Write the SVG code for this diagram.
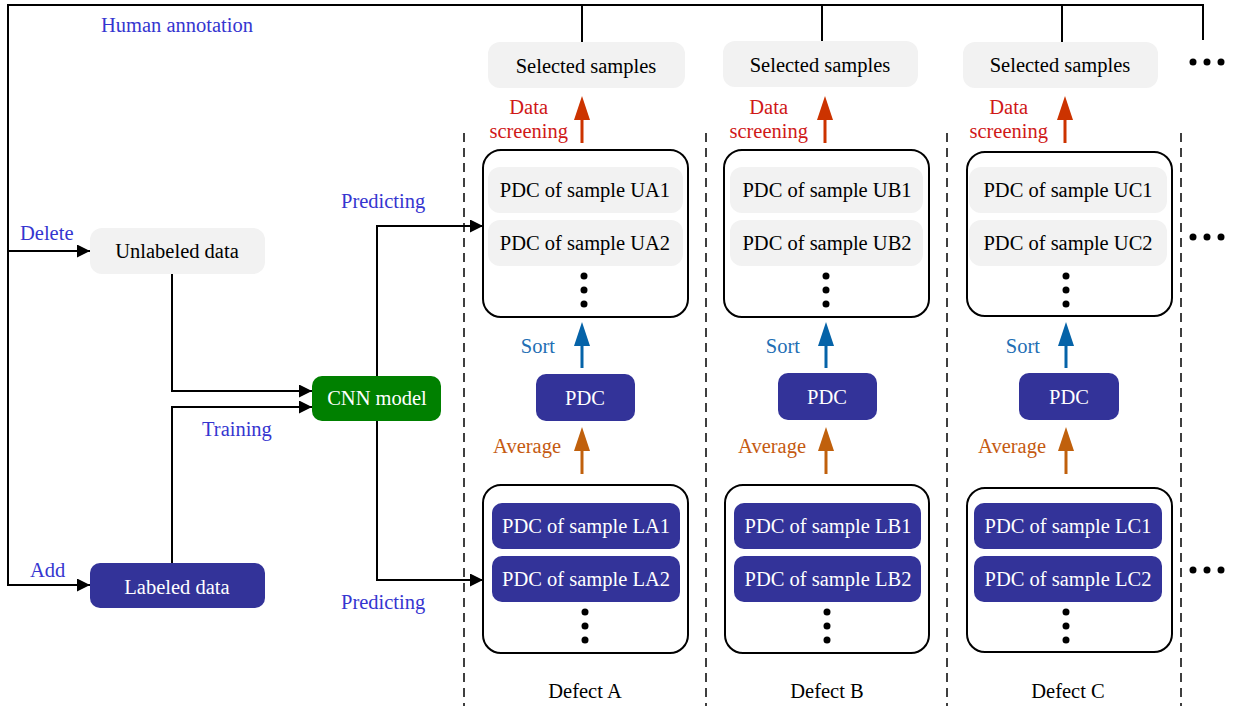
<svg xmlns="http://www.w3.org/2000/svg" width="1233" height="706" viewBox="0 0 1233 706">
<style>
text{font-family:"Liberation Serif","Times New Roman",serif;font-size:20.5px}
.c{text-anchor:middle}
.e{text-anchor:end}
.blk{fill:#000}
.wht{fill:#fff}
.lbl{fill:#3535d0}
.red{fill:#d01818}
.srt{fill:#1f6fb4}
.avg{fill:#c55a11}
.gray{fill:#f2f2f2}
.navy{fill:#333399}
.green{fill:#008000}
.cont{fill:#fff;stroke:#000;stroke-width:2}
.ln{fill:none;stroke:#000;stroke-width:2}
.arr{marker-end:url(#ah)}
.dash{stroke:#000;stroke-width:1.5;stroke-dasharray:9 6}
.ra{stroke:#cc3300;stroke-width:3;marker-end:url(#ahr)}
.ba{stroke:#0563a8;stroke-width:3;marker-end:url(#ahb)}
.oa{stroke:#c0600c;stroke-width:3;marker-end:url(#aho)}
</style>
<defs>
<marker id="ah" markerUnits="userSpaceOnUse" markerWidth="14" markerHeight="14" refX="13" refY="6.5" orient="auto"><path d="M0,0 L13,6.5 L0,13 z" fill="#000"/></marker>
<marker id="ahr" markerUnits="userSpaceOnUse" markerWidth="25" markerHeight="17" refX="14" refY="8" orient="auto"><path d="M0,0 L24,8 L0,16 z" fill="#cc3300"/></marker>
<marker id="ahb" markerUnits="userSpaceOnUse" markerWidth="25" markerHeight="17" refX="14" refY="8" orient="auto"><path d="M0,0 L24,8 L0,16 z" fill="#0563a8"/></marker>
<marker id="aho" markerUnits="userSpaceOnUse" markerWidth="25" markerHeight="17" refX="14" refY="8" orient="auto"><path d="M0,0 L24,8 L0,16 z" fill="#c0600c"/></marker>
</defs>
<rect width="1233" height="706" fill="#fff"/>

<g id="separators">
<line class="dash" x1="464" y1="133" x2="464" y2="706"/>
<line class="dash" x1="706" y1="133" x2="706" y2="706"/>
<line class="dash" x1="947" y1="133" x2="947" y2="706"/>
<line class="dash" x1="1181" y1="133" x2="1181" y2="706"/>
</g>

<g id="connectors">
<path class="ln" d="M582,42 V5 H8 V585 H90" marker-end="url(#ah)"/>
<path class="ln arr" d="M8,251 H90"/>
<path class="ln" d="M582,5 H1203 V40 M822,5 V42 M1062,5 V42"/>
<path class="ln arr" d="M172,274 V391 H312"/>
<path class="ln arr" d="M172,563 V407 H312"/>
<path class="ln arr" d="M377,376 V226 H483"/>
<path class="ln arr" d="M377,421 V580 H483"/>
<line class="ra" x1="582" y1="143" x2="582" y2="106"/>
<line class="ba" x1="582" y1="368" x2="582" y2="332"/>
<line class="oa" x1="582" y1="474" x2="582" y2="437"/>
<line class="ra" x1="825" y1="143" x2="825" y2="106"/>
<line class="ba" x1="826" y1="368" x2="826" y2="332"/>
<line class="oa" x1="826" y1="474" x2="826" y2="437"/>
<line class="ra" x1="1065" y1="143" x2="1065" y2="106"/>
<line class="ba" x1="1066" y1="368" x2="1066" y2="332"/>
<line class="oa" x1="1066" y1="474" x2="1066" y2="437"/>
</g>

<g id="edge-labels">
<text class="lbl" x="101" y="32">Human annotation</text>
<text class="lbl" x="20" y="240">Delete</text>
<text class="lbl" x="30" y="577">Add</text>
<text class="lbl" x="202" y="436">Training</text>
<text class="lbl" x="341" y="208">Predicting</text>
<text class="lbl" x="341" y="609">Predicting</text>
<text class="red e" x="548" y="114">Data</text>
<text class="red e" x="568" y="138">screening</text>
<text class="srt e" x="555" y="353">Sort</text>
<text class="avg e" x="561" y="453">Average</text>
<text class="red e" x="788" y="114">Data</text>
<text class="red e" x="808" y="138">screening</text>
<text class="srt e" x="800" y="353">Sort</text>
<text class="avg e" x="806" y="453">Average</text>
<text class="red e" x="1028" y="114">Data</text>
<text class="red e" x="1048" y="138">screening</text>
<text class="srt e" x="1040" y="353">Sort</text>
<text class="avg e" x="1046" y="453">Average</text>
</g>

<g id="unlabeled-data">
<rect class="gray" x="90" y="228" width="175" height="46" rx="12"/>
<text class="c blk" x="177" y="258">Unlabeled data</text>
</g>
<g id="labeled-data">
<rect class="navy" x="90" y="563" width="175" height="45" rx="10"/>
<text class="c wht" x="177" y="594">Labeled data</text>
</g>
<g id="cnn-model">
<rect class="green" x="312" y="376" width="129" height="45" rx="10"/>
<text class="c wht" x="377" y="405">CNN model</text>
</g>

<!-- Column A -->
<g id="selected-a">
<rect class="gray" x="488" y="42" width="197" height="46" rx="12"/>
<text class="c blk" x="586" y="73">Selected samples</text>
</g>
<g id="unlabeled-a">
<rect class="cont" x="483" y="150" width="205" height="167" rx="18"/>
<rect class="gray" x="488" y="167" width="195" height="46" rx="12"/>
<text class="c blk" x="585" y="197">PDC of sample UA1</text>
<rect class="gray" x="488" y="220" width="195" height="46" rx="12"/>
<text class="c blk" x="585" y="250">PDC of sample UA2</text>
<circle cx="584" cy="276" r="3.5"/><circle cx="584" cy="290" r="3.5"/><circle cx="584" cy="304" r="3.5"/>
</g>
<g id="pdc-a">
<rect class="navy" x="536" y="374" width="99" height="47" rx="10"/>
<text class="c wht" x="585" y="405">PDC</text>
</g>
<g id="labeled-a">
<rect class="cont" x="483" y="485" width="205" height="168" rx="18"/>
<rect class="navy" x="492" y="503" width="188" height="46" rx="10"/>
<text class="c wht" x="586" y="533">PDC of sample LA1</text>
<rect class="navy" x="492" y="556" width="188" height="46" rx="10"/>
<text class="c wht" x="586" y="586">PDC of sample LA2</text>
<circle cx="585" cy="612" r="3.5"/><circle cx="585" cy="626" r="3.5"/><circle cx="585" cy="640" r="3.5"/>
</g>
<text id="defect-a" class="c blk" x="585" y="698">Defect A</text>

<!-- Column B -->
<g id="selected-b">
<rect class="gray" x="723" y="41" width="195" height="46" rx="12"/>
<text class="c blk" x="820" y="72">Selected samples</text>
</g>
<g id="unlabeled-b">
<rect class="cont" x="724" y="150" width="205" height="167" rx="18"/>
<rect class="gray" x="730" y="167" width="193" height="46" rx="12"/>
<text class="c blk" x="827" y="197">PDC of sample UB1</text>
<rect class="gray" x="730" y="220" width="193" height="46" rx="12"/>
<text class="c blk" x="827" y="250">PDC of sample UB2</text>
<circle cx="826" cy="276" r="3.5"/><circle cx="826" cy="290" r="3.5"/><circle cx="826" cy="304" r="3.5"/>
</g>
<g id="pdc-b">
<rect class="navy" x="778" y="373" width="99" height="47" rx="10"/>
<text class="c wht" x="827" y="404">PDC</text>
</g>
<g id="labeled-b">
<rect class="cont" x="725" y="485" width="204" height="168" rx="18"/>
<rect class="navy" x="734" y="503" width="187" height="46" rx="10"/>
<text class="c wht" x="828" y="533">PDC of sample LB1</text>
<rect class="navy" x="734" y="556" width="187" height="46" rx="10"/>
<text class="c wht" x="828" y="586">PDC of sample LB2</text>
<circle cx="827" cy="612" r="3.5"/><circle cx="827" cy="626" r="3.5"/><circle cx="827" cy="640" r="3.5"/>
</g>
<text id="defect-b" class="c blk" x="827" y="698">Defect B</text>

<!-- Column C -->
<g id="selected-c">
<rect class="gray" x="963" y="42" width="195" height="46" rx="12"/>
<text class="c blk" x="1060" y="72">Selected samples</text>
</g>
<g id="unlabeled-c">
<rect class="cont" x="967" y="152" width="205" height="164" rx="18"/>
<rect class="gray" x="969" y="167" width="198" height="46" rx="12"/>
<text class="c blk" x="1068" y="197">PDC of sample UC1</text>
<rect class="gray" x="969" y="220" width="198" height="46" rx="12"/>
<text class="c blk" x="1068" y="250">PDC of sample UC2</text>
<circle cx="1066" cy="276" r="3.5"/><circle cx="1066" cy="290" r="3.5"/><circle cx="1066" cy="304" r="3.5"/>
</g>
<g id="pdc-c">
<rect class="navy" x="1019" y="373" width="100" height="47" rx="10"/>
<text class="c wht" x="1069" y="404">PDC</text>
</g>
<g id="labeled-c">
<rect class="cont" x="967" y="488" width="205" height="164" rx="18"/>
<rect class="navy" x="974" y="503" width="188" height="46" rx="10"/>
<text class="c wht" x="1068" y="533">PDC of sample LC1</text>
<rect class="navy" x="974" y="556" width="188" height="46" rx="10"/>
<text class="c wht" x="1068" y="586">PDC of sample LC2</text>
<circle cx="1066" cy="612" r="3.5"/><circle cx="1066" cy="626" r="3.5"/><circle cx="1066" cy="640" r="3.5"/>
</g>
<text id="defect-c" class="c blk" x="1068" y="698">Defect C</text>

<g id="ellipses">
<circle cx="1193" cy="62" r="3.5"/><circle cx="1207" cy="62" r="3.5"/><circle cx="1221" cy="62" r="3.5"/>
<circle cx="1193" cy="237" r="3.5"/><circle cx="1207" cy="237" r="3.5"/><circle cx="1221" cy="237" r="3.5"/>
<circle cx="1193" cy="570" r="3.5"/><circle cx="1207" cy="570" r="3.5"/><circle cx="1221" cy="570" r="3.5"/>
</g>
</svg>
